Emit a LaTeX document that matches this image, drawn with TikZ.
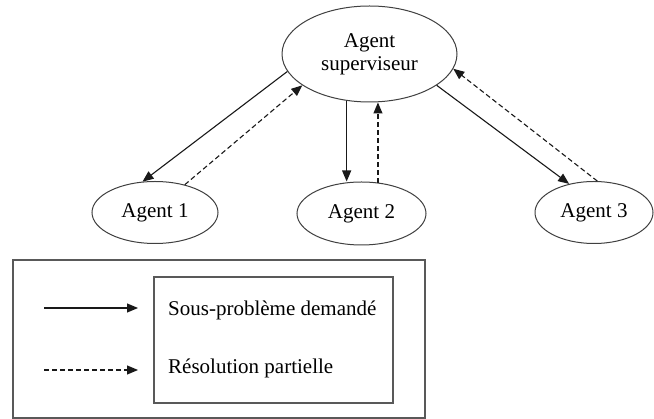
\documentclass[tikz,border=0pt]{standalone}
\usepackage{fontspec}
\setmainfont{Liberation Serif}
\usetikzlibrary{shapes.geometric,arrows.meta}
\begin{document}
\begin{tikzpicture}[x=1pt,y=-1pt,
  agent/.style={draw=black!75,line width=1pt,ellipse,inner sep=0pt,
    font=\fontsize{21}{23}\selectfont,align=center},
  req/.style={line width=1.1pt,draw=black!90,-{Triangle[length=11pt,width=9pt]}},
  res/.style={req,dash pattern=on 5pt off 3pt},
  frame/.style={draw=black!65,line width=1.3pt},
  legtext/.style={anchor=west,inner sep=0pt,font=\fontsize{21}{23}\selectfont}]
\useasboundingbox (0,0) rectangle (654,419);
\fill[white] (0,0) rectangle (654,419);

% agents
\node[agent,minimum width=175pt,minimum height=96pt] (sup) at (369.5,54) {Agent\\superviseur};
\node[agent,minimum width=126pt,minimum height=62pt] (a1) at (155,212.5) {Agent 1};
\node[agent,minimum width=129pt,minimum height=63pt] (a2) at (361.5,213.5) {Agent 2};
\node[agent,minimum width=118pt,minimum height=62pt] (a3) at (594,212.5) {Agent 3};

% requests and partial results
\draw[req] (sup.192) -- (a1.112);
\draw[res] (a1.43.6) -- (sup.205);
\draw[req] (sup.244) -- (sup.244 |- a2.north);
\draw[res] (a2.62) -- (a2.62 |- sup.south);
\draw[req] (sup.335) -- (a3.131.5);
\draw[res] (a3.84.7) -- (sup.350);

% legend
\node[frame,rectangle,minimum width=412pt,minimum height=158pt,inner sep=0pt] (legend) at (219,339) {};
\node[frame,rectangle,minimum width=239pt,minimum height=126pt,inner sep=0pt] (keys) at (273.5,340) {};
\coordinate (r0) at (44,308);
\coordinate (r1) at (138,308);
\coordinate (p0) at (44,370);
\coordinate (p1) at (138,370);
\draw[req] (r0) -- (r1);
\draw[res] (p0) -- (p1);
\node[legtext] (lreq) at (168,310) {Sous-problème demandé};
\node[legtext] (lres) at (168,368) {Résolution partielle};
\end{tikzpicture}
\end{document}
